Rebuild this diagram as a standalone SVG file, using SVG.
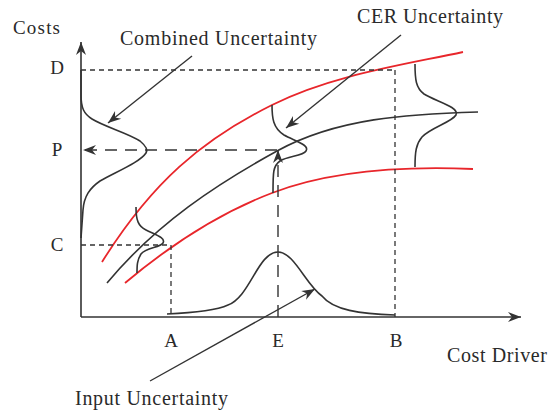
<svg xmlns="http://www.w3.org/2000/svg" width="559" height="414" viewBox="0 0 559 414">
<style>
text{font-family:"Liberation Serif","Times New Roman",serif;font-size:19px;fill:#2a2a2a}
.lbl{font-size:20px}
.ax{stroke:#333;stroke-width:1.6;fill:none}
.blk{stroke:#333;stroke-width:1.6;fill:none}
.red{stroke:#e8262b;stroke-width:1.8;fill:none}
.sd{stroke:#333;stroke-width:1.3;fill:none;stroke-dasharray:5 4}
.ld{stroke:#333;stroke-width:1.4;fill:none;stroke-dasharray:12 8}
.arr{stroke:#333;stroke-width:1.4;fill:none}
</style>
<defs>
<marker id="ah" viewBox="-14 -7 15 14" refX="0" refY="0" markerWidth="15" markerHeight="14" markerUnits="userSpaceOnUse" orient="auto">
<path d="M0,0 L-13,-5 L-9,0 L-13,5 Z" fill="#333"/>
</marker>
</defs>
<rect width="559" height="414" fill="#fff"/>
<g id="axes">
<line class="ax" x1="81" y1="317" x2="81" y2="42" marker-end="url(#ah)"/>
<line class="ax" x1="81" y1="317" x2="521" y2="317" marker-end="url(#ah)"/>
</g>
<g id="curve-upper">
<path class="red" d="M102,262 C152,182 202,140 272,105 C332,75 403,65 463,52"/>
</g>
<g id="curve-middle">
<path class="blk" d="M107,283 C157,223 217,184 277,151 C337,118 408,114 478,112"/>
</g>
<g id="curve-lower">
<path class="red" d="M125,283 C175,241 222,212 272,193 C332,170 403,166 473,169"/>
</g>
<g id="dist-combined">
<path class="blk" d="M81,70 L81,95 C81,108 84,114 92,119 C105,127 128,133 140,141 C146,146 148,150 146,153 C140,162 118,171 100,181 C90,188 84,196 83,210 L81,238"/>
</g>
<g id="dist-left">
<path class="blk" d="M136,207 C136,220 138,226 146,230 C156,235 166,238 163,243 C160,248 146,247 141,254 C137,260 137,266 137,273"/>
</g>
<g id="dist-cer">
<path class="blk" d="M272,105 C272,118 273,128 284,135 C295,141 310,145 306,151 C303,156 288,156 280,161 C273,166 273,172 273,193"/>
</g>
<g id="dist-right">
<path class="blk" d="M415,64 C415,80 416,88 424,94 C435,101 460,107 456,115 C452,122 430,128 422,137 C416,144 415,152 415,167"/>
</g>
<g id="dist-input">
<path class="blk" d="M167,314 C190,313 215,311 228,305 C250,297 258,252 278,252 C294,252 306,285 322,296 C333,310 360,314 395,315"/>
</g>
<g id="connectors">
<line class="sd" x1="81" y1="70" x2="395" y2="70"/>
<line class="sd" x1="395" y1="70" x2="395" y2="317"/>
<line class="sd" x1="81" y1="245" x2="171" y2="245"/>
<line class="sd" x1="171" y1="245" x2="171" y2="317"/>
<line class="ld" x1="277" y1="150" x2="83" y2="150" marker-end="url(#ah)"/>
<line class="ld" x1="278" y1="317" x2="278" y2="150" marker-end="url(#ah)"/>
<line class="arr" x1="192" y1="56" x2="108" y2="123" marker-end="url(#ah)"/>
<line class="arr" x1="401" y1="35" x2="286" y2="128" marker-end="url(#ah)"/>
<line class="arr" x1="150" y1="381" x2="315" y2="289" marker-end="url(#ah)"/>
</g>
<g id="labels">
<text x="13" y="34" textLength="47" lengthAdjust="spacing">Costs</text>
<text class="lbl" x="120" y="45" textLength="197" lengthAdjust="spacing">Combined Uncertainty</text>
<text class="lbl" x="357" y="23" textLength="146" lengthAdjust="spacing">CER Uncertainty</text>
<text class="lbl" x="75" y="405" textLength="153" lengthAdjust="spacing">Input Uncertainty</text>
<text class="lbl" x="447" y="362" textLength="100" lengthAdjust="spacing">Cost Driver</text>
<text x="57" y="74" text-anchor="middle">D</text>
<text x="57" y="156" text-anchor="middle">P</text>
<text x="57" y="251" text-anchor="middle">C</text>
<text x="171" y="347" text-anchor="middle">A</text>
<text x="278" y="347" text-anchor="middle">E</text>
<text x="396" y="347" text-anchor="middle">B</text>
</g>
</svg>
